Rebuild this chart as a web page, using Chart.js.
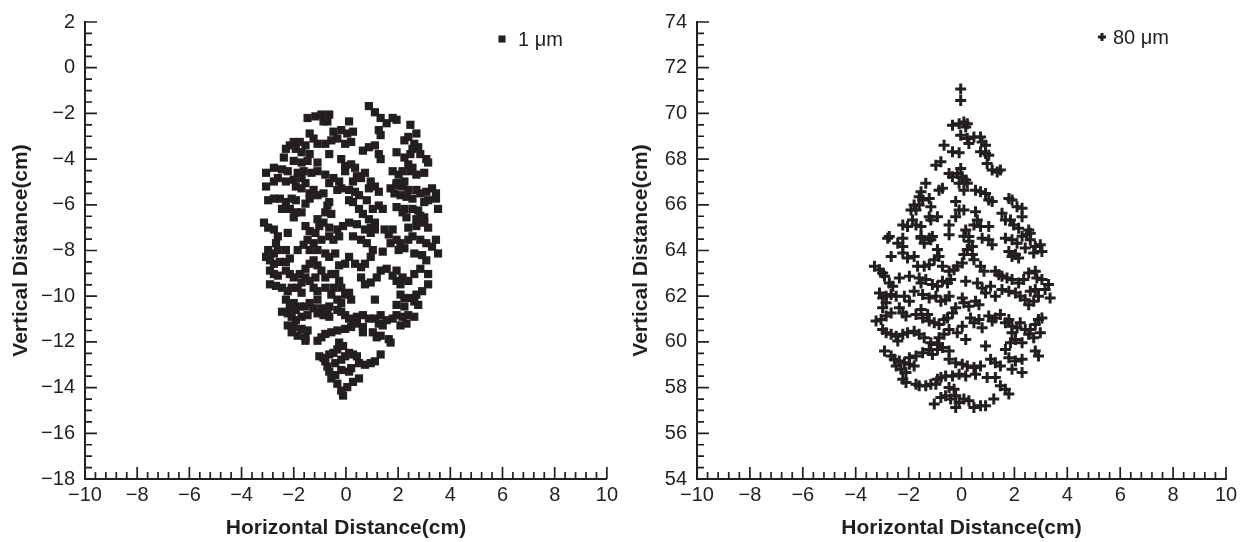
<!DOCTYPE html>
<html>
<head>
<meta charset="utf-8">
<script src="https://cdn.jsdelivr.net/npm/chart.js@4/dist/chart.umd.min.js"></script>
<style>
  html, body { margin: 0; background: #fff; }
  .panel { position: absolute; top: 0; width: 622px; height: 542px; }
</style>
</head>
<body>
<div class="panel" style="left:0"><canvas id="smallChart" width="622" height="542"></canvas></div>
<div class="panel" style="left:622px"><canvas id="largeChart" width="622" height="542"></canvas></div>
<script>
// Droplet positions, [horizontal cm, vertical cm]
const smallDrops = [
  [0.88,-1.68],[1.11,-1.95],[1.33,-2.2],[1.56,-2.43],[1.79,-2.2],[1.94,-2.28],[1.26,-2.73],[1.33,-2.95],
  [-1.47,-2.2],[-1.17,-2.13],[-0.94,-2.05],[-0.64,-2.05],[-0.86,-2.35],[-0.71,-2.35],
  [0.12,-2.35],[-0.18,-2.73],[0.05,-2.88],[0.27,-2.8],[-0.48,-2.8],[-0.33,-3.1],[-0.03,-3.33],[0.2,-3.25],
  [2.47,-2.5],[2.7,-2.88],[2.39,-3.03],[2.24,-3.18],[2.62,-3.33],[2.77,-3.48],[2.85,-3.78],[3.08,-4.0],[3.15,-4.15],[2.55,-3.55],[2.47,-3.78],
  [-1.39,-2.88],[-1.24,-3.1],[-1.55,-3.4],[-1.77,-3.25],[-2.0,-3.25],[-2.15,-3.4],[-2.3,-3.55],[-1.92,-3.55],[-1.7,-3.7],[-1.39,-3.78],[-1.09,-3.33],[-0.79,-3.33],[-0.56,-3.18],
  [0.65,-3.63],[0.88,-3.48],[1.11,-3.4],[1.26,-3.78],[1.33,-4.0],[1.94,-3.7],[2.24,-3.93],[2.39,-4.23],[2.55,-4.38],
  [-2.38,-3.93],[-2.0,-4.08],[-1.7,-4.15],[-1.47,-4.08],[-1.09,-4.15],[-0.64,-3.78],[-0.18,-4.0],[-0.03,-4.3],[0.2,-4.23],[-0.03,-4.53],[0.35,-4.38],
  [-3.06,-4.6],[-2.76,-4.38],[-2.45,-4.45],[-2.23,-4.53],[-1.85,-4.6],[-1.62,-4.53],[-1.32,-4.6],[-1.09,-4.53],[-0.79,-4.68],[-0.48,-4.83],[-0.26,-4.98],[-0.64,-5.05],[-0.18,-5.28],[0.27,-4.98],[0.42,-4.75],[0.58,-4.83],[0.73,-4.6],[0.95,-4.98],[1.11,-5.2],[0.88,-5.28],[1.26,-5.43],[1.79,-4.53],[2.02,-4.68],[2.17,-4.53],[2.47,-4.53],[2.7,-4.68],[3.0,-4.6],[2.24,-4.98],[1.94,-5.05],
  [-3.06,-5.2],[-2.76,-4.98],[-2.61,-4.83],[-2.3,-4.98],[-2.0,-4.9],[-1.7,-4.83],[-1.55,-5.05],[-1.92,-5.2],[-1.7,-5.28],[-1.24,-5.35],[-1.09,-5.58],[-1.39,-5.73],[-1.55,-5.95],[-1.39,-5.5],[-0.86,-5.5],[-0.64,-5.88],[-0.33,-5.35],[0.12,-5.35],[0.35,-5.43],[0.5,-5.58],[0.27,-5.88],[0.8,-5.8],[1.03,-6.18],[1.26,-6.03],[1.41,-6.18],
  [-2.98,-5.8],[-2.76,-5.73],[-2.53,-5.73],[-2.3,-5.88],[-2.08,-5.73],[-1.92,-5.8],[-2.45,-6.18],[-2.15,-6.18],[-1.92,-6.33],[-1.7,-6.33],[-2.0,-6.55],[-0.71,-6.03],[-0.79,-6.33],[-0.56,-6.4],
  [1.71,-5.28],[1.94,-5.13],[2.17,-5.2],[2.39,-5.35],[2.7,-5.35],[2.85,-5.5],[3.08,-5.43],[3.3,-5.28],[3.45,-5.5],[3.15,-5.8],[3.0,-5.88],[3.45,-5.73],[3.53,-6.18],[1.86,-5.5],[2.09,-5.58],[2.32,-5.65],[2.55,-5.73],[1.94,-6.1],[2.24,-6.18],[2.55,-6.18],[2.77,-6.25],[2.85,-6.48],[3.0,-6.55],[2.7,-6.63],[2.32,-6.55],[2.17,-6.33],
  [0.12,-5.8],[0.5,-6.18],[0.65,-6.4],[0.88,-6.63],[1.11,-6.78],[0.95,-7.0],[0.73,-7.08],[0.42,-6.85],[0.12,-6.78],[-0.11,-6.93],[-0.33,-7.08],[-0.64,-7.0],[-0.86,-6.78],[-1.09,-6.63],[-1.02,-6.93],[-1.17,-7.23],[-0.94,-7.53],[-1.24,-7.68],[-1.39,-7.98],[-1.09,-7.98],[-0.79,-8.13],[-0.64,-7.38],[-0.48,-7.53],[-0.26,-7.38],[0.27,-7.38],
  [-3.14,-6.78],[-2.98,-7.0],[-2.76,-7.08],[-2.61,-7.38],[-2.68,-7.68],[-2.23,-7.23],[-2.61,-7.98],[-2.76,-8.13],[-2.98,-7.98],[-3.06,-8.28],[-2.91,-8.43],[-2.76,-8.58],[-2.53,-8.5],[-2.3,-8.5],[-2.15,-8.35],[-2.3,-7.98],[-1.85,-7.98],[-1.62,-7.75],[-1.39,-7.15],[-1.47,-7.53],[-1.55,-6.93],
  [0.58,-7.53],[0.8,-7.68],[0.95,-7.23],[1.11,-7.08],[1.48,-7.08],[1.79,-7.08],[1.64,-7.3],[1.94,-7.53],[2.09,-7.68],[2.24,-7.9],[2.02,-7.98],[1.71,-7.68],[2.39,-7.53],[2.55,-7.38],[2.85,-7.53],[3.08,-7.68],[3.3,-7.83],[3.45,-7.53],[3.53,-8.13],[3.15,-7.0],[3.0,-6.78],[2.7,-6.93],[2.39,-7.0],
  [1.03,-7.98],[1.41,-8.05],[0.95,-8.28],[0.73,-8.58],[0.58,-8.73],[0.35,-8.58],[0.12,-8.28],[-0.03,-8.58],[-0.26,-8.65],[-0.41,-8.13],[-0.64,-8.28],[-0.56,-9.03],[-0.79,-9.18],[-0.41,-9.03],[-0.26,-9.33],
  [-2.91,-8.88],[-2.76,-9.03],[-2.61,-9.1],[-2.3,-8.88],[-2.15,-9.03],[-2.0,-9.18],[-1.77,-9.03],[-1.55,-8.8],[-1.39,-8.58],[-1.24,-8.43],[-1.09,-8.65],[-0.94,-8.88],[-1.55,-9.18],[-1.7,-9.4],[-1.39,-9.33],[-1.17,-9.18],
  [1.56,-8.8],[1.79,-9.1],[1.94,-8.88],[2.17,-9.18],[2.39,-9.33],[2.62,-9.03],[2.85,-8.8],[3.08,-8.43],[2.92,-8.2],[2.62,-8.13],[3.15,-9.03],[1.33,-8.88],[1.18,-9.18],[0.95,-9.4],[0.58,-9.18],[0.73,-9.48],[1.94,-9.33],[2.09,-9.48],
  [-2.91,-9.48],[-2.68,-9.55],[-2.45,-9.63],[-2.23,-9.78],[-2.08,-9.63],[-1.85,-9.63],[-1.7,-9.85],[-1.24,-9.63],[-1.09,-9.78],[-0.79,-9.63],[-0.56,-9.93],[-0.48,-9.63],[-0.18,-9.63],[-0.03,-9.93],[0.12,-9.85],[0.2,-10.15],[-0.18,-10.3],[-0.33,-10.15],[-0.64,-10.45],[-1.09,-10.15],[-1.39,-10.3],[-1.55,-10.45],[-1.24,-10.53],[-0.94,-10.53],[-0.71,-10.6],[-1.77,-10.45],[-2.0,-10.3],[-2.3,-10.15],[-2.15,-10.45],[-1.92,-10.6],
  [2.09,-9.93],[2.24,-10.08],[2.47,-10.08],[2.62,-10.23],[2.77,-10.38],[2.7,-9.93],[2.92,-9.78],[3.15,-9.48],[1.94,-10.38],[2.24,-10.45],[1.11,-10.15],
  [-2.45,-10.68],[-2.23,-10.75],[-2.08,-10.9],[-1.92,-11.05],[-1.7,-10.9],[-1.47,-10.83],[-1.09,-10.75],[-0.86,-10.83],[-0.64,-10.9],[-0.33,-10.6],[-0.18,-10.68],[-0.03,-10.83],[0.12,-10.98],[0.27,-11.13],[0.42,-10.9],[0.65,-10.83],[0.88,-10.98],[1.11,-10.98],[1.33,-10.83],[1.56,-11.05],[1.79,-10.98],[1.94,-10.83],[2.17,-10.9],[2.39,-10.83],[2.62,-10.9],[2.32,-11.2],[2.09,-11.28],[1.26,-11.2],[1.41,-11.28],
  [-2.23,-11.28],[-2.0,-11.35],[-1.7,-11.43],[-1.47,-11.5],[-2.08,-11.58],[-1.85,-11.73],[-1.55,-11.8],[-1.09,-11.95],[-0.94,-11.8],[-0.79,-11.65],[-0.56,-11.58],[-0.33,-11.5],[-0.03,-11.43],[0.2,-11.35],[0.42,-11.2],[0.65,-11.35],[0.65,-11.58],[1.03,-11.58],[1.18,-11.8],[1.33,-11.73],[1.64,-11.88],[1.71,-12.03],[-1.55,-11.95],
  [-0.26,-12.03],[-0.11,-12.18],[-0.33,-12.33],[-0.48,-12.48],[-0.64,-12.55],[-0.86,-12.7],[-1.02,-12.63],[-0.79,-12.85],[-0.71,-13.08],[-0.41,-12.93],[-0.18,-12.78],[-0.03,-12.63],[0.12,-12.48],[0.27,-12.55],[0.42,-12.63],[0.5,-12.93],[0.73,-13.0],[0.95,-12.93],[1.11,-12.85],[1.33,-12.55],[0.2,-13.15],[0.12,-13.3],[-0.18,-13.23],[-0.41,-13.45],[-0.56,-13.6],[-0.33,-13.83],[-0.18,-14.13],[-0.11,-14.35],[0.05,-13.98],[0.27,-13.75],[0.5,-13.6],[-0.64,-13.3]
];

const largeDrops = [
  [-0.03,71.07],[-0.03,70.57],[-0.34,69.48],[-0.09,69.55],[0.09,69.62],[0.22,69.55],[0.16,69.4],[-0.03,69.04],[0.22,68.9],[0.28,68.68],[0.47,68.97],[0.72,68.97],[0.78,68.75],[0.91,68.61],[-0.66,68.61],[-0.34,68.32],[-0.09,68.28],[0.72,68.32],[0.91,68.24],[1.03,68.17],
  [-0.97,67.73],[-0.78,67.88],[0.97,67.81],[1.16,67.52],[1.35,67.44],[1.47,67.52],[-0.47,67.37],[-0.34,67.23],[-0.16,67.37],[-0.03,67.59],[0.03,67.23],[0.16,67.08],[-0.09,66.94],[0.22,66.94],[0.09,66.64],[-0.85,66.64],[-0.72,66.72],[-1.35,66.94],[-1.53,66.57],[-1.6,66.35],[-1.47,66.21],
  [-1.79,65.99],[-1.6,65.99],[-1.22,66.28],[-1.16,65.92],[-1.91,65.77],[-1.72,65.77],[-1.22,65.48],[-0.91,65.48],[-1.85,65.34],[-2.22,65.12],[-2.04,65.05],[-1.72,65.12],[-1.53,65.05],[-1.16,65.34],[-0.47,65.12],[-0.22,66.14],[-0.09,65.77],[0.09,65.77],[-0.22,65.48],
  [0.53,66.64],[0.72,66.57],[0.91,66.5],[1.03,66.21],[1.16,66.14],[0.53,65.7],[0.6,65.34],[0.47,65.12],[0.72,65.05],[1.03,65.05],[1.79,66.28],[1.91,66.21],[2.1,65.92],[2.29,65.85],[1.53,65.63],[1.66,65.34],[1.85,65.34],[1.97,65.12],[2.16,64.97],[2.29,65.48],[2.54,64.9],[2.6,64.76],
  [-2.73,64.61],[-2.22,64.54],[-1.53,64.61],[-1.22,64.54],[-1.1,64.61],[0.16,64.9],[0.28,64.61],
  [-2.79,64.54],[-2.41,64.32],[-2.22,64.18],[-1.53,64.54],[-1.41,64.32],[-1.16,64.47],[-0.47,64.69],[0.09,64.62],[0.28,64.4],[0.41,64.18],[0.78,64.54],[1.03,64.47],[1.16,64.25],[1.66,64.54],[1.91,64.47],[2.1,64.32],[2.29,64.62],[2.47,64.69],[2.6,64.47],[2.79,64.18],[2.98,64.25],[3.04,63.96],[2.73,63.89],[2.41,64.11],[1.79,63.96],[2.04,63.82],[2.16,63.67],[1.91,63.74],
  [-2.66,63.74],[-2.22,63.89],[-2.04,63.67],[-1.79,63.74],[-0.91,64.04],[-0.85,63.74],[-1.03,63.6],[-1.22,63.38],[-1.41,63.31],[-1.66,63.31],[-0.72,63.31],[0.22,64.04],[0.09,63.82],[0.41,63.82],[0.47,63.6],[0.03,63.45],[-0.16,63.31],[-0.28,63.16],[-0.47,63.09],[0.72,63.31],[0.85,63.09],[1.28,63.09],[1.41,62.94],[1.53,62.87],[1.72,62.8],[1.91,62.73],[2.16,62.58],[2.35,62.73],[2.54,63.02],[2.79,63.09],[2.85,62.8],[3.04,62.73],[3.29,62.51],[3.16,62.29],[3.35,61.92],[-3.29,63.31],[-3.1,63.16],[-2.98,63.02],[-2.91,62.87],
  [-2.73,62.58],[-2.6,62.44],[-2.35,62.8],[-1.97,62.87],[-1.6,62.8],[-1.53,62.58],[-1.35,62.73],[-1.1,62.51],[-0.91,62.44],[-0.72,62.65],[-0.53,62.58],[-0.41,62.73],[0.16,62.65],[0.6,62.58],[0.78,62.36],[0.91,62.14],[1.1,62.44],[1.28,62.0],[1.53,62.29],[1.79,62.22],[2.04,62.14],[2.22,62.0],[2.41,61.85],[2.6,62.22],[2.79,62.29],[2.91,62.0],[2.73,61.78],[2.54,61.63],
  [-3.1,62.14],[-2.98,61.92],[-2.85,62.0],[-2.66,62.07],[-2.47,62.0],[-2.16,62.0],[-1.97,61.78],[-1.79,62.22],[-1.47,62.07],[-1.22,61.92],[-0.97,62.0],[-0.78,61.78],[-0.6,61.85],[-0.47,62.0],[0.03,61.92],[0.09,61.71],[0.28,61.56],[0.53,61.78],[0.66,61.63],[-2.85,61.71],[-2.98,61.49],
  [-3.23,60.91],[-3.04,60.98],[-2.85,61.13],[-2.66,61.27],[-2.35,61.49],[-2.22,61.27],[-2.1,61.13],[-1.72,61.2],[-1.53,61.42],[-1.47,61.05],[-1.28,61.2],[-1.22,60.91],[-1.03,60.84],[-0.85,60.76],[-0.66,60.98],[-0.53,61.05],[-0.34,61.27],[-0.22,61.49],[-0.47,60.54],[-0.16,60.4],[0.03,60.69],[0.16,60.11],[0.34,61.05],[0.47,60.84],[0.66,60.98],[0.78,60.62],
  [1.03,61.13],[1.16,60.91],[1.28,61.05],[1.47,61.2],[1.66,60.84],[1.79,60.98],[1.91,60.69],[2.1,60.62],[2.22,60.84],[2.41,60.54],[2.6,60.54],[2.79,60.76],[2.91,60.98],[3.04,61.05],[2.98,60.4],[2.73,60.18],[2.54,60.33],[2.29,59.96],[2.04,60.11],[1.91,60.4],[1.66,59.67],[1.85,59.96],
  [-2.98,60.54],[-2.85,60.4],[-2.66,60.33],[-2.47,60.25],[-2.41,60.04],[-2.22,60.33],[-2.04,60.4],[-1.79,60.47],[-1.6,60.33],[-1.41,60.18],[-1.16,59.96],[-0.91,59.89],[-0.66,60.33],[-0.85,60.18],
  [-2.91,59.6],[-2.66,59.38],[-2.54,59.24],[-2.35,59.16],[-2.16,59.09],[-1.97,59.02],[-1.79,58.95],[-2.47,58.95],[-2.29,58.8],[-2.1,58.66],[-1.97,59.31],[-1.72,59.38],[-1.47,59.53],[-1.22,59.67],[-1.1,59.45],[-0.91,59.67],[-0.72,59.75],[-0.47,59.6],
  [0.91,59.82],[1.1,59.24],[1.28,59.09],[1.47,58.95],[1.79,59.31],[2.04,59.16],[2.29,59.24],[1.91,58.8],[2.29,58.66],[2.79,59.6],[2.91,59.38],
  [-0.47,59.24],[-0.22,59.09],[0.03,59.02],[0.22,58.95],[0.47,58.88],[0.53,58.58],[0.72,58.95],[0.16,58.51],[-0.09,58.58],[-0.34,58.51],[-0.6,58.51],[-0.78,58.44],[-0.91,58.37],
  [-2.22,58.37],[-2.1,58.22],[-1.72,58.15],[-1.6,58.08],[-1.35,58.08],[-1.16,58.15],[-0.97,58.15],
  [0.97,58.44],[1.28,58.44],[1.47,58.08],[1.66,57.93],[1.79,57.72],[-0.47,58.0],[-0.28,57.93],[-0.22,57.64],[-0.6,57.64],[-0.78,57.57],[-0.41,57.5],[-0.09,57.35],[0.09,57.5],[0.28,57.42],[0.47,57.13],[0.72,57.21],[0.91,57.21],[1.22,57.5],[-1.03,57.28],[-0.22,57.13]
];

const xTicks = [-10, -8, -6, -4, -2, 0, 2, 4, 6, 8, 10];
const smallYRange = [-18, 2];
const largeYRange = [54, 74];

const ink = '#231f20';
const fontFamily = '"Liberation Sans", Arial, Helvetica, sans-serif';

function minusLabel(v) {
  return v < 0 ? '\u2212' + Math.abs(v) : String(v);
}

// Inward major / minor tick marks along the left and bottom axes
const inwardTicks = {
  id: 'inwardTicks',
  afterDraw(chart) {
    const { ctx, chartArea, scales: { x, y } } = chart;
    ctx.save();
    ctx.strokeStyle = ink;
    ctx.lineWidth = 1.7;
    ctx.beginPath();
    for (let i = 0; i <= 50; i++) {
      const px = x.getPixelForValue(x.min + i * 0.4);
      const len = i % 5 === 0 ? 12 : 7;
      ctx.moveTo(px, chartArea.bottom);
      ctx.lineTo(px, chartArea.bottom - len);
    }
    for (let i = 0; i <= 40; i++) {
      const py = y.getPixelForValue(y.min + i * 0.5);
      const len = i % 4 === 0 ? 12 : 7;
      ctx.moveTo(chartArea.left, py);
      ctx.lineTo(chartArea.left + len, py);
    }
    ctx.stroke();
    ctx.restore();
  }
};

// Small legend drawn inside the plot
const cornerLegend = {
  id: 'cornerLegend',
  afterDraw(chart, args, opts) {
    const ctx = chart.ctx;
    const ds = chart.data.datasets[0];
    ctx.save();
    ctx.fillStyle = ink;
    ctx.strokeStyle = ink;
    ctx.lineWidth = ds.borderWidth;
    Chart.helpers.drawPoint(ctx, {
      pointStyle: ds.pointStyle,
      radius: opts.radius,
      borderWidth: ds.borderWidth,
      rotation: 0
    }, opts.x, opts.y);
    ctx.font = '20px ' + fontFamily;
    ctx.textBaseline = 'middle';
    ctx.textAlign = 'left';
    ctx.fillText(ds.label, opts.x + opts.gap, opts.y + 1);
    ctx.restore();
  }
};

function makeScatter(canvasId, drops, label, yRange, marker, layout) {
  const ctx = document.getElementById(canvasId).getContext('2d');
  return new Chart(ctx, {
    type: 'scatter',
    data: {
      datasets: [{
        label: label,
        data: drops.map(p => ({ x: p[0], y: p[1] })),
        pointStyle: marker.style,
        pointRadius: marker.radius,
        pointHoverRadius: marker.radius,
        borderWidth: marker.border,
        backgroundColor: ink,
        borderColor: ink
      }]
    },
    options: {
      responsive: false,
      devicePixelRatio: 1,
      animation: false,
      events: [],
      layout: {
        autoPadding: false,
        padding: { top: 19, right: layout.right, bottom: 0, left: 0 }
      },
      plugins: {
        legend: { display: false },
        tooltip: { enabled: false },
        cornerLegend: { x: layout.legendX, y: layout.legendY, gap: layout.legendGap, radius: layout.legendRadius }
      },
      scales: {
        x: {
          type: 'linear',
          min: xTicks[0],
          max: xTicks[xTicks.length - 1],
          afterBuildTicks: s => { s.ticks = xTicks.map(v => ({ value: v })); },
          afterFit: s => { s.height = 63; },
          grid: { display: false, drawTicks: false },
          border: { display: true, color: ink, width: 2 },
          ticks: {
            color: ink,
            padding: 4,
            maxRotation: 0,
            autoSkip: false,
            font: { family: fontFamily, size: 20 },
            callback: minusLabel
          },
          title: {
            display: true,
            text: 'Horizontal Distance(cm)',
            color: ink,
            padding: { top: 0, bottom: 1.5 },
            font: { family: fontFamily, size: 21, weight: 'bold' }
          }
        },
        y: {
          type: 'linear',
          min: yRange[0],
          max: yRange[1],
          afterFit: s => { s.width = layout.yWidth; },
          grid: { display: false, drawTicks: false },
          border: { display: true, color: ink, width: 2 },
          ticks: {
            stepSize: 2,
            color: ink,
            padding: 10,
            font: { family: fontFamily, size: 20 },
            callback: minusLabel
          },
          title: {
            display: true,
            text: 'Vertical Distance(cm)',
            color: ink,
            padding: { top: layout.titlePad, bottom: 0 },
            font: { family: fontFamily, size: 21, weight: 'bold' }
          }
        }
      }
    },
    plugins: [inwardTicks, cornerLegend]
  });
}

makeScatter('smallChart', smallDrops, '1 \u03bcm', smallYRange,
  { style: 'rect', radius: 5.8, border: 0 },
  { right: 10, yWidth: 85, titlePad: 8.5, legendX: 502, legendY: 39, legendGap: 16, legendRadius: 5 });

makeScatter('largeChart', largeDrops, '80 \u03bcm', largeYRange,
  { style: 'cross', radius: 5.5, border: 3 },
  { right: 18, yWidth: 75, titlePad: 6.5, legendX: 480, legendY: 37, legendGap: 11, legendRadius: 4 });
</script>
</body>
</html>
